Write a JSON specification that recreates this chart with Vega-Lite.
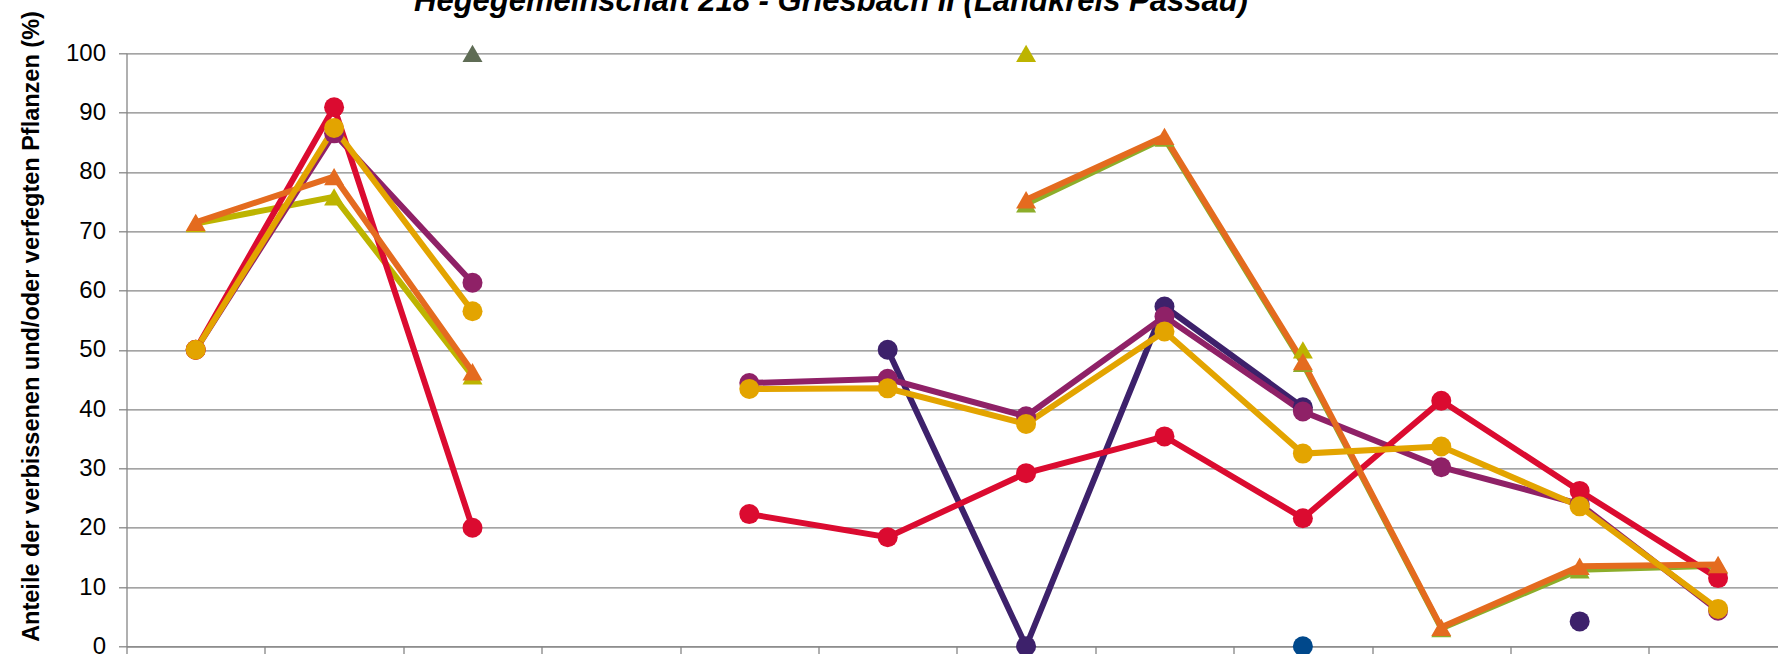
{
  "$schema": "https://vega.github.io/schema/vega-lite/v6.json",
  "width": 1651.5,
  "height": 593,
  "autosize": {"type": "none"},
  "padding": {"left": 126.5, "top": 53.3, "right": 0, "bottom": 7.7},
  "background": "white",
  "config": {"view": {"stroke": null}, "font": "Liberation Sans"},
  "title": {
    "text": "Hegegemeinschaft 218 - Griesbach II (Landkreis Passau)",
    "anchor": "start",
    "frame": "group",
    "dx": 287.5,
    "dy": 31,
    "offset": 0,
    "font": "Liberation Sans",
    "fontSize": 31,
    "fontWeight": "bold",
    "fontStyle": "italic",
    "color": "#000000",
    "baseline": "alphabetic"
  },
  "data": {
    "values": [
      {"serie": "A", "pos": 2, "kategorie": "K3", "wert": 100, "abschnitt": 1},
      {"serie": "B", "pos": 8, "kategorie": "K9", "wert": 0, "abschnitt": 1},
      {"serie": "C", "pos": 0, "kategorie": "K1", "wert": 71.3, "abschnitt": 1},
      {"serie": "C", "pos": 1, "kategorie": "K2", "wert": 75.8, "abschnitt": 1},
      {"serie": "C", "pos": 2, "kategorie": "K3", "wert": 45.6, "abschnitt": 1},
      {"serie": "C", "pos": 6, "kategorie": "K7", "wert": 100, "abschnitt": 2},
      {"serie": "C", "pos": 8, "kategorie": "K9", "wert": 50, "abschnitt": 3},
      {"serie": "D", "pos": 6, "kategorie": "K7", "wert": 74.6, "abschnitt": 1},
      {"serie": "D", "pos": 7, "kategorie": "K8", "wert": 85.7, "abschnitt": 1},
      {"serie": "D", "pos": 8, "kategorie": "K9", "wert": 47.7, "abschnitt": 1},
      {"serie": "D", "pos": 9, "kategorie": "K10", "wert": 3.0, "abschnitt": 1},
      {"serie": "D", "pos": 10, "kategorie": "K11", "wert": 12.9, "abschnitt": 1},
      {"serie": "D", "pos": 11, "kategorie": "K12", "wert": 13.6, "abschnitt": 1},
      {"serie": "E", "pos": 5, "kategorie": "K6", "wert": 50, "abschnitt": 1},
      {"serie": "E", "pos": 6, "kategorie": "K7", "wert": 0, "abschnitt": 1},
      {"serie": "E", "pos": 7, "kategorie": "K8", "wert": 57.3, "abschnitt": 1},
      {"serie": "E", "pos": 8, "kategorie": "K9", "wert": 40.3, "abschnitt": 1},
      {"serie": "E", "pos": 10, "kategorie": "K11", "wert": 4.2, "abschnitt": 2},
      {"serie": "F", "pos": 0, "kategorie": "K1", "wert": 50, "abschnitt": 1},
      {"serie": "F", "pos": 1, "kategorie": "K2", "wert": 86.5, "abschnitt": 1},
      {"serie": "F", "pos": 2, "kategorie": "K3", "wert": 61.3, "abschnitt": 1},
      {"serie": "F", "pos": 4, "kategorie": "K5", "wert": 44.4, "abschnitt": 2},
      {"serie": "F", "pos": 5, "kategorie": "K6", "wert": 45.1, "abschnitt": 2},
      {"serie": "F", "pos": 6, "kategorie": "K7", "wert": 38.8, "abschnitt": 2},
      {"serie": "F", "pos": 7, "kategorie": "K8", "wert": 55.6, "abschnitt": 2},
      {"serie": "F", "pos": 8, "kategorie": "K9", "wert": 39.6, "abschnitt": 2},
      {"serie": "F", "pos": 9, "kategorie": "K10", "wert": 30.2, "abschnitt": 2},
      {"serie": "F", "pos": 10, "kategorie": "K11", "wert": 24.0, "abschnitt": 2},
      {"serie": "F", "pos": 11, "kategorie": "K12", "wert": 6.0, "abschnitt": 2},
      {"serie": "G", "pos": 0, "kategorie": "K1", "wert": 50, "abschnitt": 1},
      {"serie": "G", "pos": 1, "kategorie": "K2", "wert": 90.9, "abschnitt": 1},
      {"serie": "G", "pos": 2, "kategorie": "K3", "wert": 20.0, "abschnitt": 1},
      {"serie": "G", "pos": 4, "kategorie": "K5", "wert": 22.3, "abschnitt": 2},
      {"serie": "G", "pos": 5, "kategorie": "K6", "wert": 18.4, "abschnitt": 2},
      {"serie": "G", "pos": 6, "kategorie": "K7", "wert": 29.2, "abschnitt": 2},
      {"serie": "G", "pos": 7, "kategorie": "K8", "wert": 35.4, "abschnitt": 2},
      {"serie": "G", "pos": 8, "kategorie": "K9", "wert": 21.6, "abschnitt": 2},
      {"serie": "G", "pos": 9, "kategorie": "K10", "wert": 41.4, "abschnitt": 2},
      {"serie": "G", "pos": 10, "kategorie": "K11", "wert": 26.2, "abschnitt": 2},
      {"serie": "G", "pos": 11, "kategorie": "K12", "wert": 11.5, "abschnitt": 2},
      {"serie": "H", "pos": 0, "kategorie": "K1", "wert": 71.5, "abschnitt": 1},
      {"serie": "H", "pos": 1, "kategorie": "K2", "wert": 79.2, "abschnitt": 1},
      {"serie": "H", "pos": 2, "kategorie": "K3", "wert": 46.3, "abschnitt": 1},
      {"serie": "H", "pos": 6, "kategorie": "K7", "wert": 75.3, "abschnitt": 2},
      {"serie": "H", "pos": 7, "kategorie": "K8", "wert": 86.0, "abschnitt": 2},
      {"serie": "H", "pos": 8, "kategorie": "K9", "wert": 48.0, "abschnitt": 2},
      {"serie": "H", "pos": 9, "kategorie": "K10", "wert": 3.2, "abschnitt": 2},
      {"serie": "H", "pos": 10, "kategorie": "K11", "wert": 13.5, "abschnitt": 2},
      {"serie": "H", "pos": 11, "kategorie": "K12", "wert": 13.8, "abschnitt": 2},
      {"serie": "I", "pos": 0, "kategorie": "K1", "wert": 50, "abschnitt": 1},
      {"serie": "I", "pos": 1, "kategorie": "K2", "wert": 87.4, "abschnitt": 1},
      {"serie": "I", "pos": 2, "kategorie": "K3", "wert": 56.5, "abschnitt": 1},
      {"serie": "I", "pos": 4, "kategorie": "K5", "wert": 43.4, "abschnitt": 2},
      {"serie": "I", "pos": 5, "kategorie": "K6", "wert": 43.5, "abschnitt": 2},
      {"serie": "I", "pos": 6, "kategorie": "K7", "wert": 37.5, "abschnitt": 2},
      {"serie": "I", "pos": 7, "kategorie": "K8", "wert": 53.1, "abschnitt": 2},
      {"serie": "I", "pos": 8, "kategorie": "K9", "wert": 32.5, "abschnitt": 2},
      {"serie": "I", "pos": 9, "kategorie": "K10", "wert": 33.7, "abschnitt": 2},
      {"serie": "I", "pos": 10, "kategorie": "K11", "wert": 23.6, "abschnitt": 2},
      {"serie": "I", "pos": 11, "kategorie": "K12", "wert": 6.3, "abschnitt": 2}
    ]
  },
  "encoding": {
    "x": {
      "field": "pos",
      "type": "quantitative",
      "scale": {"domain": [-0.5, 11.433], "nice": false, "zero": false},
      "axis": {
        "values": [-0.5, 0.5, 1.5, 2.5, 3.5, 4.5, 5.5, 6.5, 7.5, 8.5, 9.5, 10.5],
        "labels": false,
        "grid": false,
        "title": null,
        "domainColor": "#868686",
        "domainWidth": 1.3,
        "tickColor": "#868686",
        "tickWidth": 1.3,
        "tickSize": 8
      }
    },
    "y": {
      "field": "wert",
      "type": "quantitative",
      "scale": {"domain": [0, 100], "nice": false},
      "axis": {
        "values": [0, 10, 20, 30, 40, 50, 60, 70, 80, 90, 100],
        "grid": true,
        "gridColor": "#868686",
        "gridWidth": 1.3,
        "domainColor": "#868686",
        "domainWidth": 1.3,
        "tickColor": "#868686",
        "tickWidth": 1.3,
        "tickSize": 8,
        "labelFont": "Liberation Sans",
        "labelFontSize": 24,
        "labelColor": "#000000",
        "labelPadding": 13,
        "title": "Anteile der verbissenen und/oder verfegten Pflanzen (%)",
        "titleFont": "Liberation Sans",
        "titleFontSize": 23.5,
        "titleFontWeight": "bold",
        "titleColor": "#000000",
        "titleAngle": -90,
        "titleAlign": "center",
        "titleBaseline": "alphabetic",
        "titleX": -88.5,
        "titleY": 272.7
      }
    },
    "color": {
      "field": "serie",
      "type": "nominal",
      "scale": {
        "domain": ["A", "B", "C", "D", "E", "F", "G", "H", "I"],
        "range": ["#5F6C55", "#00488B", "#BDB400", "#8CAD2A", "#3D216B", "#8F2167", "#DB0B30", "#E46B1F", "#E3A400"]
      },
      "legend": null
    }
  },
  "layer": [
    {
      "mark": {"type": "line", "strokeWidth": 6},
      "encoding": {"detail": {"field": "abschnitt", "type": "nominal"}}
    },
    {
      "mark": {"type": "point", "filled": true, "opacity": 1, "size": 400},
      "encoding": {
        "shape": {
          "field": "serie",
          "type": "nominal",
          "scale": {
            "domain": ["A", "B", "C", "D", "E", "F", "G", "H", "I"],
            "range": ["triangle-up", "circle", "triangle-up", "triangle-up", "circle", "circle", "circle", "triangle-up", "circle"]
          },
          "legend": null
        }
      }
    }
  ]
}
